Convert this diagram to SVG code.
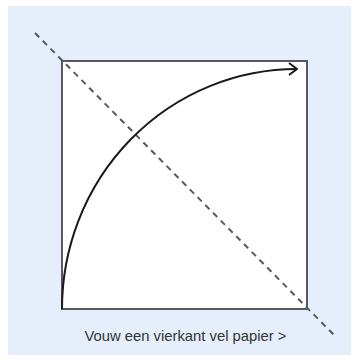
<svg xmlns="http://www.w3.org/2000/svg" width="359" height="360" viewBox="0 0 359 360">
  <style>
    .bg { fill: #e5eefa; }
    .sheet { fill: #ffffff; stroke: #555a60; stroke-width: 2; }
    .fold { fill: none; stroke: #555a60; stroke-width: 2; stroke-dasharray: 6 5; }
    .curve { fill: none; stroke: #1a1a1a; stroke-width: 2; }
    .label { font-family: "Liberation Sans", Arial, sans-serif; font-size: 14.8px; fill: #333333; }
  </style>
  <defs>
    <marker id="chev" viewBox="0 0 12 14" refX="11" refY="7" markerWidth="12" markerHeight="14" markerUnits="userSpaceOnUse" orient="auto">
      <path d="M3,1 L11,7 L3,13" fill="none" stroke="#1a1a1a" stroke-width="2"/>
    </marker>
  </defs>
  <rect class="bg" x="8" y="6" width="343" height="349"/>
  <g id="sheet">
    <rect class="sheet" x="62" y="61" width="245" height="248"/>
  </g>
  <g id="connectors">
    <line class="fold" x1="35" y1="33" x2="336" y2="337"/>
    <path class="curve" d="M62,309 A235,240 0 0 1 297,69" marker-end="url(#chev)"/>
  </g>
  <g id="caption">
    <text class="label" x="185.5" y="341" text-anchor="middle">Vouw een vierkant vel papier &gt;</text>
  </g>
</svg>
